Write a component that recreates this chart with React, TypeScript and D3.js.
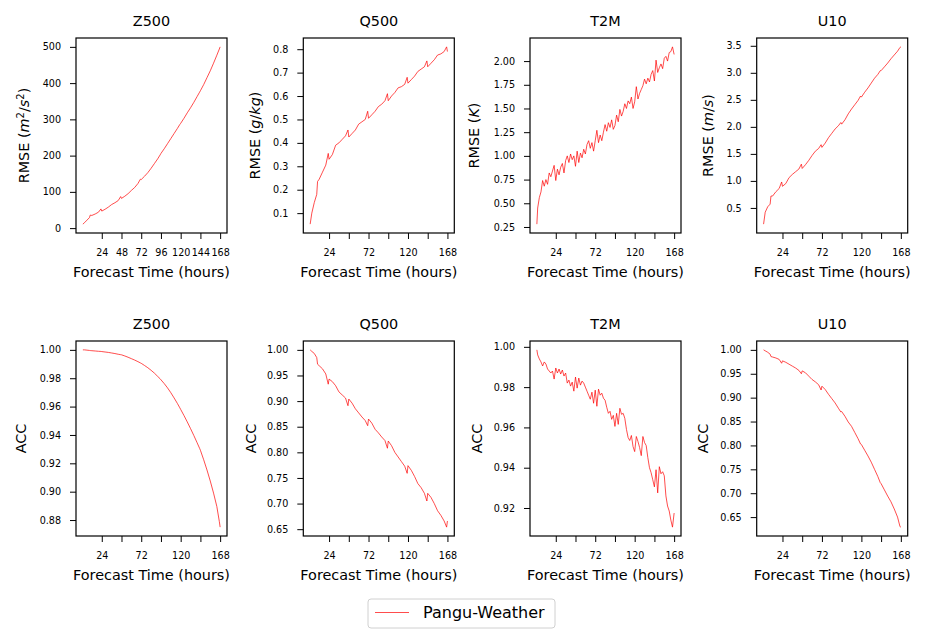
import * as d3 from 'd3';
import { useEffect, useRef } from 'react';

// forecast hours sampled for the smoother series (extra points around the 24h steps)
const HOURS = [1, 3, 6, 9, 10, 12, 16, 20, 23, 24,
  28, 32, 36, 40, 44, 47, 48,
  52, 56, 60, 64, 68, 71, 72,
  76, 80, 84, 88, 92, 95, 96,
  100, 104, 108, 112, 116, 119, 120,
  124, 128, 132, 136, 140, 143, 144,
  148, 152, 156, 160, 164, 167, 168];

// T2M is noisy, so it is read every 2 hours
const HOURS_T2M = [1, 2, 4, 6, 8, 10, 12, 14, 16, 18, 20, 22,
  24, 26, 28, 30, 32, 34, 36, 38, 40, 42, 44, 46,
  48, 50, 52, 54, 56, 58, 60, 62, 64, 66, 68, 70,
  72, 74, 76, 78, 80, 82, 84, 86, 88, 90, 92, 94,
  96, 98, 100, 102, 104, 106, 108, 110, 112, 114, 116, 118,
  120, 122, 124, 126, 128, 130, 132, 134, 136, 138, 140, 142,
  144, 146, 148, 150, 152, 154, 156, 158, 160, 162, 164, 166,
  168];

const Z500_RMSE = [11, 15, 22, 29, 36, 35, 39, 44, 53, 47,
  52, 58, 65, 70, 76, 87, 82,
  88, 95, 104, 112, 123, 135, 134,
  143, 153, 165, 178, 191, 202, 206,
  219, 233, 247, 261, 275, 286, 289,
  303, 318, 332, 347, 363, 375, 379,
  396, 415, 434, 455, 477, 494, 500];

const Q500_RMSE = [0.053, 0.10, 0.145, 0.18, 0.235, 0.245, 0.275, 0.305, 0.355, 0.33,
  0.35, 0.39, 0.40, 0.415, 0.43, 0.455, 0.425,
  0.44, 0.455, 0.48, 0.49, 0.50, 0.535, 0.505,
  0.52, 0.535, 0.555, 0.565, 0.58, 0.61, 0.58,
  0.60, 0.615, 0.635, 0.64, 0.65, 0.68, 0.655,
  0.67, 0.685, 0.705, 0.715, 0.725, 0.75, 0.725,
  0.74, 0.755, 0.775, 0.78, 0.79, 0.81, 0.79];

const T2M_RMSE = [0.28, 0.45, 0.56, 0.62, 0.74, 0.68, 0.75, 0.70, 0.82, 0.78, 0.84, 0.90,
  0.74, 0.86, 0.80, 0.88, 0.92, 0.82, 0.95, 1.00, 0.93, 1.02, 0.96, 1.00,
  0.89, 1.05, 0.93, 1.03, 0.98, 1.07, 1.02, 1.12, 1.16, 1.08, 1.14, 1.05,
  1.16, 1.27, 1.14, 1.22, 1.16, 1.25, 1.33, 1.26, 1.35, 1.30, 1.38, 1.28,
  1.32, 1.43, 1.36, 1.49, 1.42, 1.47, 1.55, 1.50, 1.58, 1.55, 1.62, 1.50,
  1.57, 1.73, 1.60, 1.66, 1.70, 1.74, 1.81, 1.76, 1.82, 1.78, 1.86, 1.90,
  1.79, 2.01, 1.88, 1.93, 1.97, 1.92, 2.03, 2.05, 2.00, 2.09, 2.10, 2.15,
  2.07];

const U10_RMSE = [0.20, 0.42, 0.52, 0.57, 0.72, 0.72, 0.80, 0.86, 0.98, 0.90,
  0.95, 1.06, 1.12, 1.17, 1.22, 1.31, 1.23,
  1.30, 1.38, 1.47, 1.55, 1.60, 1.67, 1.62,
  1.70, 1.80, 1.88, 1.96, 2.02, 2.08, 2.05,
  2.13, 2.24, 2.33, 2.41, 2.49, 2.57, 2.55,
  2.64, 2.72, 2.81, 2.90, 2.97, 3.04, 3.04,
  3.11, 3.18, 3.26, 3.33, 3.40, 3.47, 3.48];

const Z500_ACC = [1.000, 1.000, 0.9998, 0.9996, 0.9995, 0.9994, 0.9992, 0.9990, 0.9989, 0.9988,
  0.9985, 0.9982, 0.9978, 0.9974, 0.9969, 0.9966, 0.9965,
  0.9957, 0.9948, 0.9938, 0.9928, 0.9917, 0.9908, 0.9905,
  0.9890, 0.9874, 0.9856, 0.9836, 0.9813, 0.9796, 0.9789,
  0.9762, 0.9732, 0.9698, 0.9661, 0.9622, 0.9591, 0.9580,
  0.9537, 0.9492, 0.9445, 0.9396, 0.9345, 0.9306, 0.9292,
  0.9225, 0.9153, 0.9075, 0.8990, 0.8895, 0.8790, 0.8750];

const Q500_ACC = [1.000, 0.997, 0.993, 0.985, 0.972, 0.969, 0.963, 0.953, 0.933, 0.943,
  0.938, 0.930, 0.918, 0.912, 0.906, 0.891, 0.904,
  0.896, 0.885, 0.877, 0.869, 0.862, 0.852, 0.865,
  0.857, 0.845, 0.838, 0.830, 0.823, 0.808, 0.822,
  0.813, 0.800, 0.791, 0.782, 0.773, 0.759, 0.774,
  0.765, 0.753, 0.739, 0.731, 0.720, 0.705, 0.720,
  0.712, 0.700, 0.686, 0.677, 0.666, 0.654, 0.666];

const T2M_ACC = [0.9985, 0.9960, 0.9940, 0.9925, 0.9905, 0.9925, 0.9915, 0.9890, 0.9880, 0.9870, 0.9880, 0.9840,
  0.9895, 0.9870, 0.9890, 0.9865, 0.9885, 0.9855, 0.9870, 0.9820, 0.9835, 0.9805, 0.9825, 0.9780,
  0.9850, 0.9795, 0.9845, 0.9810, 0.9830, 0.9820, 0.9800, 0.9780, 0.9760, 0.9740, 0.9775, 0.9720,
  0.9785, 0.9705, 0.9790, 0.9760, 0.9770, 0.9745, 0.9735, 0.9700, 0.9670, 0.9680, 0.9640, 0.9660,
  0.9605, 0.9670, 0.9615, 0.9695, 0.9665, 0.9670, 0.9645, 0.9590, 0.9550, 0.9535, 0.9560, 0.9505,
  0.9480, 0.9555, 0.9530, 0.9500, 0.9460, 0.9555, 0.9525, 0.9510, 0.9450, 0.9400, 0.9375, 0.9340,
  0.9305, 0.9390, 0.9275, 0.9405, 0.9370, 0.9380, 0.9360, 0.9260, 0.9210, 0.9185, 0.9140, 0.9105,
  0.9175];

const U10_ACC = [1.000, 0.998, 0.995, 0.991, 0.986, 0.985, 0.983, 0.980, 0.972, 0.977,
  0.974, 0.970, 0.966, 0.962, 0.957, 0.950, 0.956,
  0.952, 0.945, 0.938, 0.933, 0.927, 0.916, 0.924,
  0.917, 0.907, 0.898, 0.889, 0.878, 0.870, 0.871,
  0.861, 0.849, 0.840, 0.827, 0.814, 0.803, 0.802,
  0.790, 0.778, 0.765, 0.750, 0.735, 0.722, 0.720,
  0.707, 0.694, 0.682, 0.667, 0.650, 0.630, 0.629];

const X_TICKS = [24, 48, 72, 96, 120, 144, 168];
const X_LABELS_ALL = ['24', '48', '72', '96', '120', '144', '168'];
const X_LABELS = ['24', '', '72', '', '120', '', '168'];

const Z500_RMSE_TICKS = [0, 100, 200, 300, 400, 500];
const Q500_RMSE_TICKS = [0.1, 0.2, 0.3, 0.4, 0.5, 0.6, 0.7, 0.8];
const T2M_RMSE_TICKS = [0.25, 0.5, 0.75, 1.0, 1.25, 1.5, 1.75, 2.0];
const U10_RMSE_TICKS = [0.5, 1.0, 1.5, 2.0, 2.5, 3.0, 3.5];
const Z500_ACC_TICKS = [0.88, 0.90, 0.92, 0.94, 0.96, 0.98, 1.00];
const Q500_ACC_TICKS = [0.65, 0.70, 0.75, 0.80, 0.85, 0.90, 0.95, 1.00];
const T2M_ACC_TICKS = [0.92, 0.94, 0.96, 0.98, 1.00];
const U10_ACC_TICKS = [0.65, 0.70, 0.75, 0.80, 0.85, 0.90, 0.95, 1.00];

const FONT = "'DejaVu Sans', sans-serif";
const LEFTS = [76, 303.3, 530, 756.7];
const TOPS = [38, 341];
const W = 151;
const H = 195;

type Part = { t: string; it?: boolean; sup?: boolean };

function App() {
  const ref = useRef<SVGSVGElement>(null);

  useEffect(() => {
    const width = 927;
    const height = 644;
    const svg = d3.select(ref.current);
    svg.selectAll('*').remove();
    svg.attr('width', width).attr('height', height);
    svg.append('rect').attr('width', width).attr('height', height).attr('fill', '#fff');

    const panels = [
      { title: 'Z500', hours: HOURS, values: Z500_RMSE, ticks: Z500_RMSE_TICKS, fmt: d3.format('d'), xLabels: X_LABELS_ALL, labelX: 24,
        yLabel: [{ t: 'RMSE (' }, { t: 'm', it: true }, { t: '2', sup: true }, { t: '/' }, { t: 's', it: true }, { t: '2', sup: true }, { t: ')' }] },
      { title: 'Q500', hours: HOURS, values: Q500_RMSE, ticks: Q500_RMSE_TICKS, fmt: d3.format('.1f'), xLabels: X_LABELS, labelX: 255,
        yLabel: [{ t: 'RMSE (' }, { t: 'g', it: true }, { t: '/' }, { t: 'kg', it: true }, { t: ')' }] },
      { title: 'T2M', hours: HOURS_T2M, values: T2M_RMSE, ticks: T2M_RMSE_TICKS, fmt: d3.format('.2f'), xLabels: X_LABELS, labelX: 474,
        yLabel: [{ t: 'RMSE (' }, { t: 'K', it: true }, { t: ')' }] },
      { title: 'U10', hours: HOURS, values: U10_RMSE, ticks: U10_RMSE_TICKS, fmt: d3.format('.1f'), xLabels: X_LABELS, labelX: 708,
        yLabel: [{ t: 'RMSE (' }, { t: 'm', it: true }, { t: '/' }, { t: 's', it: true }, { t: ')' }] },
      { title: 'Z500', hours: HOURS, values: Z500_ACC, ticks: Z500_ACC_TICKS, fmt: d3.format('.2f'), xLabels: X_LABELS, labelX: 21, yLabel: [{ t: 'ACC' }] },
      { title: 'Q500', hours: HOURS, values: Q500_ACC, ticks: Q500_ACC_TICKS, fmt: d3.format('.2f'), xLabels: X_LABELS, labelX: 250.5, yLabel: [{ t: 'ACC' }] },
      { title: 'T2M', hours: HOURS_T2M, values: T2M_ACC, ticks: T2M_ACC_TICKS, fmt: d3.format('.2f'), xLabels: X_LABELS, labelX: 477, yLabel: [{ t: 'ACC' }] },
      { title: 'U10', hours: HOURS, values: U10_ACC, ticks: U10_ACC_TICKS, fmt: d3.format('.2f'), xLabels: X_LABELS, labelX: 703, yLabel: [{ t: 'ACC' }] },
    ];

    // matplotlib-style 5% margins
    const pad = ([a, b]: number[]) => [a - (b - a) * 0.05, b + (b - a) * 0.05];

    panels.forEach((p, i) => {
      const left = LEFTS[i % 4];
      const top = TOPS[Math.floor(i / 4)];
      const x = d3.scaleLinear().domain(pad(d3.extent(p.hours) as number[])).range([0, W]);
      const y = d3.scaleLinear().domain(pad(d3.extent(p.values) as number[])).range([H, 0]);

      const g = svg.append('g').attr('transform', `translate(${left},${top})`);

      const line = d3.line<number>()
        .x((_, j) => x(p.hours[j]))
        .y(d => y(d));
      g.append('path')
        .datum(p.values)
        .attr('d', line)
        .attr('fill', 'none')
        .attr('stroke', '#ff0000')
        .attr('stroke-width', 0.7)
        .attr('stroke-linejoin', 'round');

      const xAxis = g.append('g')
        .attr('transform', `translate(0,${H})`)
        .call(d3.axisBottom(x).tickValues(X_TICKS).tickFormat((_, j) => p.xLabels[j]).tickSize(6).tickPadding(10));
      const yAxis = g.append('g')
        .call(d3.axisLeft(y).tickValues(p.ticks).tickFormat(d => p.fmt(d as number)).tickSize(6).tickPadding(9));
      [xAxis, yAxis].forEach(a => {
        a.select('.domain').remove();
        a.attr('font-size', 9.6).attr('font-family', FONT);
        a.selectAll('line').attr('stroke', '#000').attr('stroke-width', 1);
        a.selectAll('text').attr('fill', '#000');
      });

      g.append('rect')
        .attr('width', W)
        .attr('height', H)
        .attr('fill', 'none')
        .attr('stroke', '#000')
        .attr('stroke-width', 1.2);

      g.append('text')
        .attr('x', W / 2)
        .attr('y', -12)
        .attr('text-anchor', 'middle')
        .attr('font-family', FONT)
        .attr('font-size', 14.4)
        .text(p.title);

      g.append('text')
        .attr('x', W / 2)
        .attr('y', H + 44)
        .attr('text-anchor', 'middle')
        .attr('font-family', FONT)
        .attr('font-size', 14.4)
        .text('Forecast Time (hours)');

      const yl = svg.append('text')
        .attr('transform', `translate(${p.labelX + 5},${top + H / 2}) rotate(-90)`)
        .attr('text-anchor', 'middle')
        .attr('font-family', FONT)
        .attr('font-size', 14.4);
      let shifted = false;
      (p.yLabel as Part[]).forEach(part => {
        const ts = yl.append('tspan').text(part.t);
        if (part.it) ts.attr('font-style', 'italic');
        if (part.sup) {
          ts.attr('font-size', 10).attr('dy', -5);
          shifted = true;
        } else if (shifted) {
          ts.attr('dy', 5);
          shifted = false;
        }
      });
    });

    // legend
    const lg = svg.append('g');
    lg.append('rect')
      .attr('x', 368).attr('y', 599).attr('width', 187).attr('height', 29).attr('rx', 3)
      .attr('fill', '#fff').attr('stroke', '#d0d0d0').attr('stroke-width', 1);
    lg.append('line')
      .attr('x1', 375).attr('x2', 409).attr('y1', 612.5).attr('y2', 612.5)
      .attr('stroke', '#ff0000').attr('stroke-width', 0.7);
    lg.append('text')
      .attr('x', 423).attr('y', 618.3)
      .attr('font-family', FONT).attr('font-size', 16)
      .text('Pangu-Weather');
  }, []);

  return <svg ref={ref} style={{ position: 'absolute', left: 0, top: 0 }} />;
}

export default App;
